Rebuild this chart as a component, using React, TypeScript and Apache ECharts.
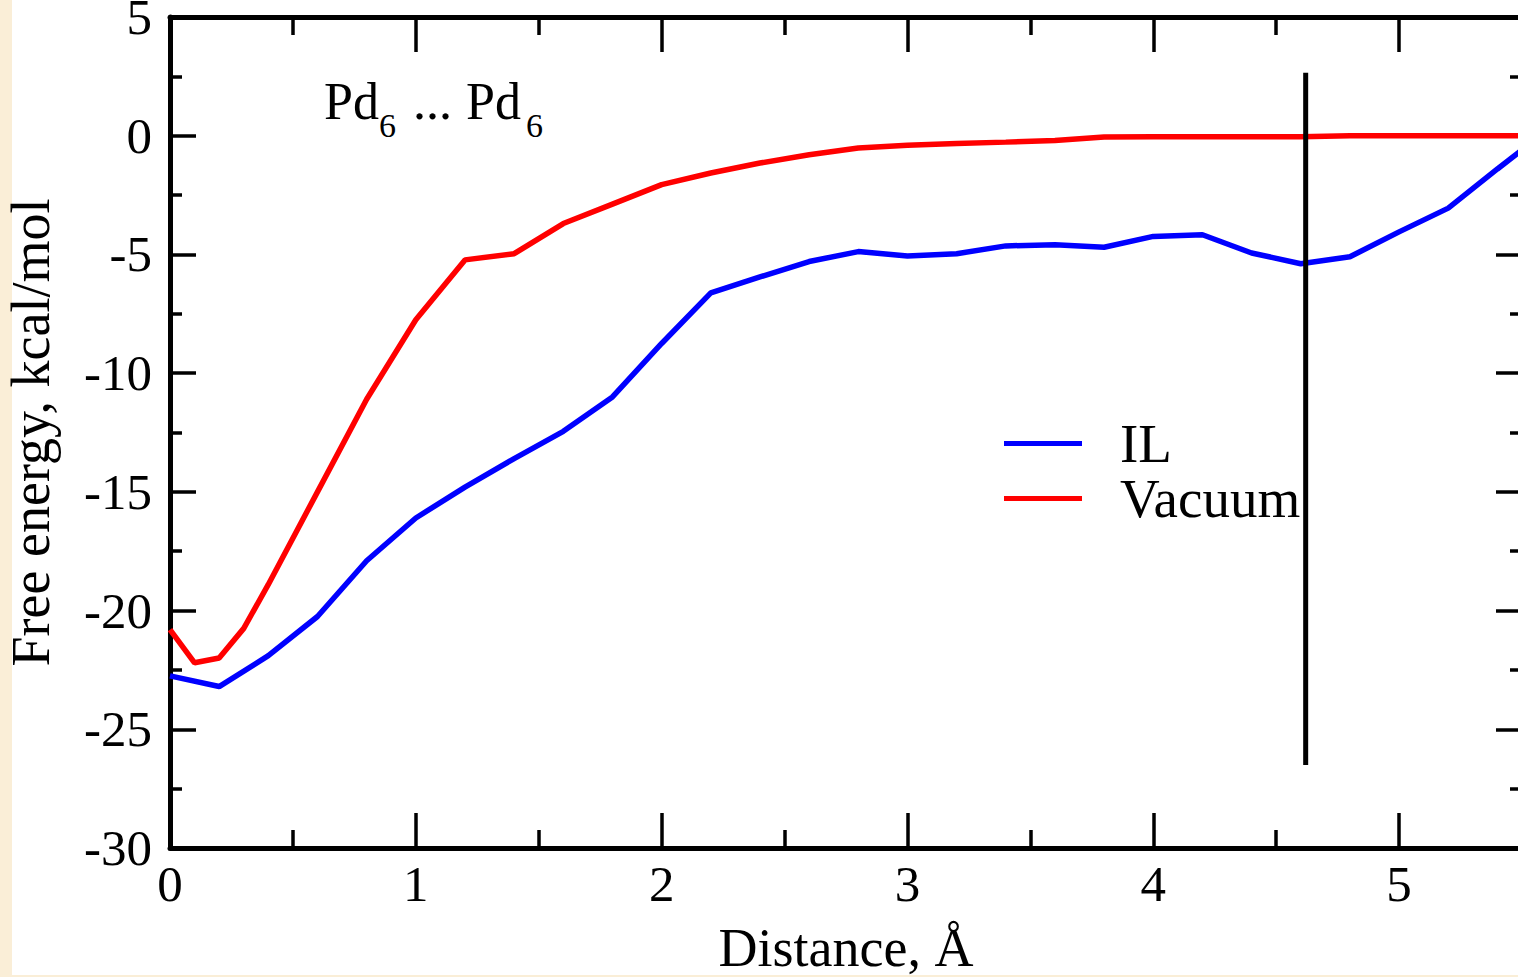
import React, { useEffect, useRef } from "react";
import * as echarts from "echarts";

const ilDistance = [0, 0.2, 0.4, 0.6, 0.8, 1.0, 1.2, 1.4, 1.6, 1.8, 2.0, 2.2, 2.4, 2.6, 2.8, 3.0, 3.2, 3.4, 3.6, 3.8, 4.0, 4.2, 4.4, 4.6, 4.8, 5.0, 5.2, 5.4, 5.5];
const ilEnergy = [-22.75, -23.2, -21.9, -20.25, -17.9, -16.1, -14.8, -13.6, -12.45, -11.0, -8.75, -6.62, -5.95, -5.3, -4.88, -5.07, -4.97, -4.64, -4.59, -4.7, -4.24, -4.17, -4.94, -5.39, -5.1, -4.05, -3.05, -1.4, -0.6];

const vacuumDistance = [0, 0.1, 0.2, 0.3, 0.4, 0.6, 0.8, 1.0, 1.2, 1.4, 1.6, 1.8, 2.0, 2.2, 2.4, 2.6, 2.8, 3.0, 3.2, 3.4, 3.6, 3.8, 4.0, 4.2, 4.4, 4.6, 4.8, 5.0, 5.2, 5.4, 5.5];
const vacuumEnergy = [-20.8, -22.2, -22.0, -20.75, -18.9, -15.0, -11.1, -7.75, -5.23, -4.97, -3.7, -2.88, -2.06, -1.57, -1.15, -0.8, -0.52, -0.4, -0.33, -0.27, -0.2, -0.05, -0.04, -0.04, -0.04, -0.04, 0, 0, 0, 0, 0];

const markerDistance = [4.62, 4.62];
const markerEnergy = [2.65, -26.5];

const seriesNames = ["IL", "Vacuum"];
const xTitle = "Distance, Å";
const yTitle = "Free energy, kcal/mol";
const xRange = [0, 5.5];
const yRange = [-30, 5];

const zip = (xs: number[], ys: number[]) => xs.map((x, i) => [x, ys[i]]);

export default function App() {
  const ref = useRef<HTMLDivElement>(null);
  useEffect(() => {
    if (!ref.current) return;
    const chart = echarts.init(ref.current, null, { renderer: "svg" });
    const font = "'Liberation Serif', 'Times New Roman', serif";
    const line = { show: true, onZero: false, lineStyle: { color: "#000", width: 5 } };
    const xTick = { show: true, inside: true, length: 35, lineStyle: { color: "#000", width: 3.5 } };
    const xMinor = { show: true, splitNumber: 2, length: 18, lineStyle: { color: "#000", width: 3.5 } };
    const yTick = { show: true, inside: true, length: 26, lineStyle: { color: "#000", width: 3.5 } };
    const yMinor = { show: true, splitNumber: 2, length: 12, lineStyle: { color: "#000", width: 3.5 } };
    chart.setOption({
      animation: false,
      backgroundColor: "transparent",
      grid: { left: 170, top: 17, right: 2, bottom: 129, containLabel: false, outerBoundsMode: "none" },
      legend: {
        data: seriesNames,
        orient: "vertical",
        left: 1004,
        top: 416,
        padding: 0,
        itemWidth: 78,
        itemHeight: 5,
        itemGap: 0,
        icon: "rect",
        textStyle: { fontFamily: font, fontSize: 55, color: "#000", lineHeight: 54, padding: [0, 0, 0, 33] },
      },
      xAxis: [
        {
          type: "value", min: xRange[0], max: xRange[1], interval: 1, position: "bottom",
          axisLine: line, axisTick: xTick, minorTick: xMinor, splitLine: { show: false },
          axisLabel: { show: true, fontFamily: font, fontSize: 51, color: "#000", margin: 10, showMaxLabel: false },
          name: xTitle, nameLocation: "middle", nameGap: 73,
          nameTextStyle: { fontFamily: font, fontSize: 54, color: "#000" },
        },
        {
          type: "value", min: xRange[0], max: xRange[1], interval: 1, position: "top",
          axisLine: line, axisTick: xTick, minorTick: xMinor, splitLine: { show: false },
          axisLabel: { show: false },
        },
      ],
      yAxis: [
        {
          type: "value", min: yRange[0], max: yRange[1], interval: 5, position: "left",
          axisLine: line, axisTick: yTick, minorTick: yMinor, splitLine: { show: false },
          axisLabel: { show: true, fontFamily: font, fontSize: 51, lineHeight: 30, color: "#000", margin: 18 },
          name: yTitle, nameLocation: "middle", nameGap: 112,
          nameTextStyle: { fontFamily: font, fontSize: 54, color: "#000" },
        },
        {
          type: "value", min: yRange[0], max: yRange[1], interval: 5, position: "right",
          axisLine: line, axisTick: yTick, minorTick: yMinor, splitLine: { show: false },
          axisLabel: { show: false },
        },
      ],
      series: [
        {
          name: seriesNames[0], type: "line", data: zip(ilDistance, ilEnergy),
          showSymbol: false, symbol: "none", color: "#0000ff",
          lineStyle: { color: "#0000ff", width: 5.5 }, z: 3,
        },
        {
          name: seriesNames[1], type: "line", data: zip(vacuumDistance, vacuumEnergy),
          showSymbol: false, symbol: "none", color: "#ff0000",
          lineStyle: { color: "#ff0000", width: 5.5 }, z: 2,
        },
        {
          name: "marker", type: "line", data: zip(markerDistance, markerEnergy),
          showSymbol: false, symbol: "none", color: "#000",
          lineStyle: { color: "#000", width: 5 }, z: 4,
        },
      ],
      graphic: [
        { type: "text", left: 324, top: 75, style: { text: "Pd", font: `52px ${font}`, fill: "#000" } },
        { type: "text", left: 379, top: 108, style: { text: "6", font: `34px ${font}`, fill: "#000" } },
        { type: "text", left: 413, top: 75, style: { text: "...", font: `52px ${font}`, fill: "#000" } },
        { type: "text", left: 466, top: 75, style: { text: "Pd", font: `52px ${font}`, fill: "#000" } },
        { type: "text", left: 526, top: 108, style: { text: "6", font: `34px ${font}`, fill: "#000" } },
      ],
    });
    return () => chart.dispose();
  }, []);
  return (
    <div style={{ position: "fixed", left: 0, top: 0, width: 1518, height: 977, background: "#FAEED7", overflow: "hidden" }}>
      <div style={{ position: "absolute", left: 12, top: 0, width: 1512, height: 975, background: "#ffffff" }} />
      <div ref={ref} style={{ position: "absolute", left: 0, top: 0, width: 1524, height: 977 }} />
    </div>
  );
}
